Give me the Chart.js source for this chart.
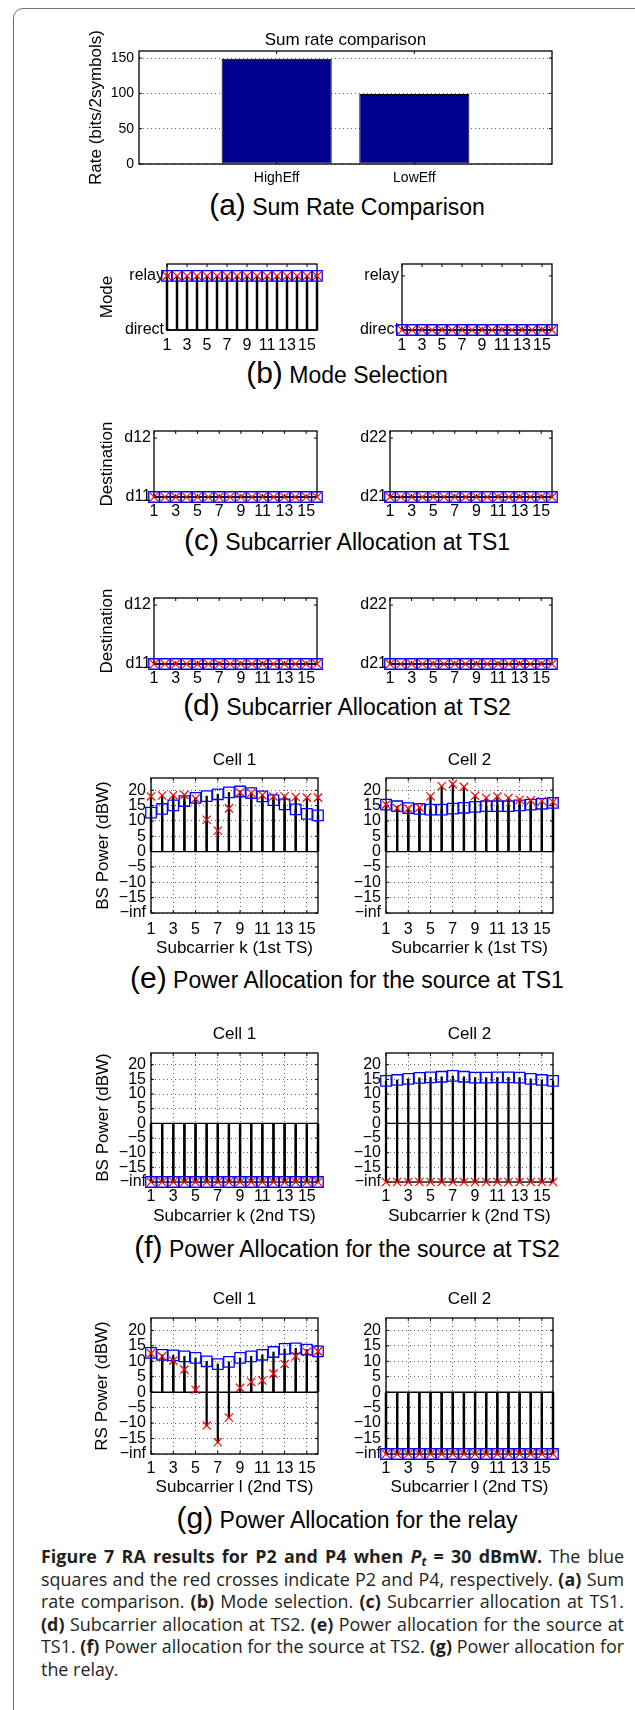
<!DOCTYPE html>
<html>
<head>
<meta charset="utf-8">
<title>Figure 7 - RA results for P2 and P4</title>
<script src="https://cdn.jsdelivr.net/npm/chart.js@4.4.1/dist/chart.umd.min.js"></script>
<style>
  body { margin:0; width:635px; height:1710px; position:relative; overflow:hidden; background:#fff;
         font-family:'Liberation Sans', Arial, Helvetica, sans-serif; color:#000; }
  #frame { position:absolute; left:13px; top:8px; width:720px; height:1800px; border:1px solid #707070; border-radius:10px; }
  canvas { position:absolute; }
  .sub { position:absolute; left:0; width:694px; height:32px; line-height:32px; text-align:center; white-space:nowrap; font-size:23px; }
  .sub span { font-size:30px; }
  #caption { position:absolute; left:41px; top:1545px; font-family:'Open Sans','Noto Sans',sans-serif; font-size:18px;
             line-height:22.6px; color:#231f20; transform-origin:0 0; }
  #caption .j { text-align:justify; text-align-last:justify; }
  #caption sub { font-size:12px; line-height:0; vertical-align:-3px; }
</style>
</head>
<body>
<div id="frame"></div>

<div class="sub" style="top:189px"><span>(a)</span> Sum Rate Comparison</div>
<div class="sub" style="top:357px"><span>(b)</span> Mode Selection</div>
<div class="sub" style="top:524px"><span>(c)</span> Subcarrier Allocation at TS1</div>
<div class="sub" style="top:689px"><span>(d)</span> Subcarrier Allocation at TS2</div>
<div class="sub" style="top:962px"><span>(e)</span> Power Allocation for the source at TS1</div>
<div class="sub" style="top:1231px"><span>(f)</span> Power Allocation for the source at TS2</div>
<div class="sub" style="top:1502px"><span>(g)</span> Power Allocation for the relay</div>

<div id="caption">
  <div class="j"><b>Figure 7 RA results for P2 and P4 when <i>P<sub>t</sub></i> = 30 dBmW.</b> The blue</div>
  <div class="j">squares and the red crosses indicate P2 and P4, respectively. <b>(a)</b> Sum</div>
  <div class="j">rate comparison. <b>(b)</b> Mode selection. <b>(c)</b> Subcarrier allocation at TS1.</div>
  <div class="j"><b>(d)</b> Subcarrier allocation at TS2. <b>(e)</b> Power allocation for the source at</div>
  <div class="j">TS1. <b>(f)</b> Power allocation for the source at TS2. <b>(g)</b> Power allocation for</div>
  <div>the relay.</div>
</div>

<script>
/* ===== Data ===== */

const NI = -Infinity; // "-inf" dBW, drawn on the bottom of the power axes

const SUBCARRIERS = [1, 2, 3, 4, 5, 6, 7, 8, 9, 10, 11, 12, 13, 14, 15, 16];
const SUB_TICKS   = [1, 3, 5, 7, 9, 11, 13, 15];

// (a) sum rate
const RATE_SCHEMES   = ['HighEff', 'LowEff'];
const RATE_POSITIONS = [1, 2];
const RATE_VALUES    = [149, 99];
const RATE_TICKS     = [0, 50, 100, 150];
const RATE_RANGE     = [0, 160];
const RATE_X_RANGE   = [0, 3];

// (b) mode selection: 0 = direct, 1 = relay
const MODE_TICKS  = [0, 1];
const MODE_LABELS = ['direct', 'relay'];
const MODE_RANGE  = [0, 1.22];
const MODE_CELL1_P2 = [1, 1, 1, 1, 1, 1, 1, 1, 1, 1, 1, 1, 1, 1, 1, 1];
const MODE_CELL1_P4 = [1, 1, 1, 1, 1, 1, 1, 1, 1, 1, 1, 1, 1, 1, 1, 1];
const MODE_CELL2_P2 = [0, 0, 0, 0, 0, 0, 0, 0, 0, 0, 0, 0, 0, 0, 0, 0];
const MODE_CELL2_P4 = [0, 0, 0, 0, 0, 0, 0, 0, 0, 0, 0, 0, 0, 0, 0, 0];

// (c)(d) subcarrier allocation: 0 = first destination, 1 = second
const DEST_TICKS        = [0, 1];
const DEST_CELL1_LABELS = ['d11', 'd12'];
const DEST_CELL2_LABELS = ['d21', 'd22'];
const DEST_RANGE        = [0, 1.12];
const DEST_TS1_CELL1_P2 = [0, 0, 0, 0, 0, 0, 0, 0, 0, 0, 0, 0, 0, 0, 0, 0];
const DEST_TS1_CELL1_P4 = [0, 0, 0, 0, 0, 0, 0, 0, 0, 0, 0, 0, 0, 0, 0, 0];
const DEST_TS1_CELL2_P2 = [0, 0, 0, 0, 0, 0, 0, 0, 0, 0, 0, 0, 0, 0, 0, 0];
const DEST_TS1_CELL2_P4 = [0, 0, 0, 0, 0, 0, 0, 0, 0, 0, 0, 0, 0, 0, 0, 0];
const DEST_TS2_CELL1_P2 = [0, 0, 0, 0, 0, 0, 0, 0, 0, 0, 0, 0, 0, 0, 0, 0];
const DEST_TS2_CELL1_P4 = [0, 0, 0, 0, 0, 0, 0, 0, 0, 0, 0, 0, 0, 0, 0, 0];
const DEST_TS2_CELL2_P2 = [0, 0, 0, 0, 0, 0, 0, 0, 0, 0, 0, 0, 0, 0, 0, 0];
const DEST_TS2_CELL2_P4 = [0, 0, 0, 0, 0, 0, 0, 0, 0, 0, 0, 0, 0, 0, 0, 0];

// (e)(f)(g) power in dBW
const POWER_TICKS       = [-20, -15, -10, -5, 0, 5, 10, 15, 20];
const POWER_TICK_LABELS = ['\u2212inf', '\u221215', '\u221210', '\u22125', '0', '5', '10', '15', '20'];
const POWER_RANGE       = [-20, 24];

const SRC_TS1_CELL1_P2 = [12.7, 13.9, 15.1, 16.5, 17.5, 18.1, 18.7, 19.3, 19.6, 19.1, 18.0, 16.8, 15.4, 13.8, 12.3, 11.8];
const SRC_TS1_CELL1_P4 = [18.0, 18.3, 18.4, 18.5, 17.3, 10.4, 6.8, 14.1, 19.3, 19.1, 18.4, 18.0, 18.0, 17.8, 17.6, 17.6];
const SRC_TS1_CELL2_P2 = [15.3, 14.8, 14.2, 13.9, 13.7, 13.7, 14.0, 14.3, 14.6, 14.8, 14.8, 14.8, 15.1, 15.3, 15.6, 15.9];
const SRC_TS1_CELL2_P4 = [15.3, 14.2, 14.0, 14.4, 18.0, 21.3, 22.0, 21.1, 18.2, 17.5, 18.0, 17.5, 16.9, 16.7, 16.5, 16.2];

const SRC_TS2_CELL1_P2 = [NI, NI, NI, NI, NI, NI, NI, NI, NI, NI, NI, NI, NI, NI, NI, NI];
const SRC_TS2_CELL1_P4 = [NI, NI, NI, NI, NI, NI, NI, NI, NI, NI, NI, NI, NI, NI, NI, NI];
const SRC_TS2_CELL2_P2 = [14.5, 14.8, 15.2, 15.5, 15.7, 15.9, 16.2, 15.9, 15.6, 15.6, 15.7, 15.7, 15.6, 15.2, 14.8, 14.5];
const SRC_TS2_CELL2_P4 = [NI, NI, NI, NI, NI, NI, NI, NI, NI, NI, NI, NI, NI, NI, NI, NI];

const RELAY_CELL1_P2 = [12.7, 12.1, 11.9, 11.6, 11.1, 10.0, 9.1, 9.8, 11.1, 11.6, 12.1, 13.0, 14.0, 14.2, 13.8, 13.2];
const RELAY_CELL1_P4 = [12.5, 11.6, 10.2, 7.3, 0.8, -10.8, -16.2, -8.2, 1.4, 3.3, 3.8, 6.0, 9.1, 11.6, 13.0, 13.2];
const RELAY_CELL2_P2 = [NI, NI, NI, NI, NI, NI, NI, NI, NI, NI, NI, NI, NI, NI, NI, NI];
const RELAY_CELL2_P4 = [NI, NI, NI, NI, NI, NI, NI, NI, NI, NI, NI, NI, NI, NI, NI, NI];

/* ===== Style ===== */

const FONT       = "'Liberation Sans', Arial, Helvetica, sans-serif";
const LABEL_SIZE = 17;
const GRID_COLOR = 'rgba(0,0,0,0.6)';
const P2_COLOR   = '#0000ff';
const P4_COLOR   = '#ff0000';
const BAR_COLOR  = '#00008f';

Chart.defaults.font.family = FONT;
Chart.defaults.color = '#000';
Chart.defaults.animation = false;
Chart.defaults.events = [];
Chart.defaults.plugins.legend.display = false;
Chart.defaults.plugins.tooltip.enabled = false;

// MATLAB-like axes box with inward tick marks
const matlabBox = {
  id: 'matlabBox',
  beforeDatasetsDraw(chart) {
    const { ctx, chartArea: a, scales: { x, y } } = chart;
    const seg = (x0, y0, x1, y1) => { ctx.beginPath(); ctx.moveTo(x0, y0); ctx.lineTo(x1, y1); ctx.stroke(); };
    ctx.save();
    ctx.strokeStyle = '#000';
    ctx.lineWidth = 1;
    x.ticks.forEach(t => {
      const px = x.getPixelForValue(t.value);
      seg(px, a.bottom, px, a.bottom - 3);
      seg(px, a.top, px, a.top + 3);
    });
    y.ticks.forEach(t => {
      const py = y.getPixelForValue(t.value);
      seg(a.left, py, a.left + 3, py);
      seg(a.right, py, a.right - 3, py);
    });
    ctx.lineWidth = 1.3;
    ctx.strokeRect(a.left, a.top, a.right - a.left, a.bottom - a.top);
    ctx.restore();
  }
};

/* ===== Helpers ===== */

function onAxis(v, min) {
  return v === -Infinity ? min : v;
}

function stemSets(p2, p4, yMin) {
  const stem = vals => ({
    type: 'bar',
    data: SUBCARRIERS.map((k, i) => ({ x: k, y: [0, onAxis(vals[i], yMin)] })),
    backgroundColor: '#000', barThickness: 1.6, grouped: false, clip: false, order: 3
  });
  return [
    stem(p2),
    stem(p4),
    {
      type: 'line',
      data: [{ x: SUBCARRIERS[0], y: 0 }, { x: SUBCARRIERS[SUBCARRIERS.length - 1], y: 0 }],
      borderColor: '#000', borderWidth: 1.4, pointRadius: 0, clip: false, order: 2
    },
    {
      type: 'scatter',
      data: SUBCARRIERS.map((k, i) => ({ x: k, y: onAxis(p2[i], yMin) })),
      pointStyle: 'rect', pointRadius: 7.4, pointBorderWidth: 1.3,
      pointBorderColor: P2_COLOR, pointBackgroundColor: 'rgba(0,0,0,0)', clip: false, order: 1
    },
    {
      type: 'scatter',
      data: SUBCARRIERS.map((k, i) => ({ x: k, y: onAxis(p4[i], yMin) })),
      pointStyle: 'crossRot', pointRadius: 5.8, pointBorderWidth: 1.2,
      pointBorderColor: P4_COLOR, clip: false, order: 0
    }
  ];
}

// p: plot rectangle (L,T,R,B) in page pixels plus text positions
function makePanel(id, p, datasets) {
  const cl = p.canvasL;
  const cr = p.R + 14;
  const ct = Math.floor(p.title ? p.titleY - LABEL_SIZE / 2 - 3 : p.T - 12);
  const xAxisH = p.xTitle ? p.xTitleY - p.B + LABEL_SIZE / 2 : p.xTickY - p.B + p.tickSize / 2 + 2;
  const cb = Math.ceil(p.B + xAxisH + 4);
  const w = cr - cl, h = cb - ct;

  const canvas = document.createElement('canvas');
  canvas.id = id;
  canvas.width = w;
  canvas.height = h;
  canvas.style.cssText = `left:${cl}px;top:${ct}px;width:${w}px;height:${h}px;`;
  document.body.appendChild(canvas);

  const tickFont = { size: p.tickSize, lineHeight: 1 };
  const labelFont = { size: LABEL_SIZE, lineHeight: 1, weight: 'normal' };
  const padTop = p.title ? p.titleY - LABEL_SIZE / 2 - ct : p.T - ct;

  return new Chart(canvas, {
    type: p.type || 'scatter',
    data: { datasets },
    options: {
      responsive: false,
      layout: { padding: { left: 0, right: cr - p.R, top: padTop, bottom: cb - (p.B + xAxisH) } },
      plugins: {
        title: p.title
          ? { display: true, text: p.title, fullSize: false, font: labelFont,
              padding: { top: 0, bottom: p.T - (p.titleY + LABEL_SIZE / 2) } }
          : { display: false }
      },
      scales: {
        x: {
          type: 'linear', min: p.xRange[0], max: p.xRange[1], bounds: 'data', offset: false,
          grid: { display: !!p.gridX, offset: false, color: GRID_COLOR, drawTicks: false },
          border: { display: false, dash: [1, 3] },
          ticks: {
            font: tickFont, padding: p.xTickY - p.B - p.tickSize / 2, autoSkip: false, maxRotation: 0,
            callback: (v, i) => (p.xLabels ? p.xLabels[i] : v)
          },
          afterBuildTicks: s => { s.ticks = p.xTicks.map(v => ({ value: v })); },
          afterFit: s => { s.height = xAxisH; },
          title: p.xTitle ? { display: true, text: p.xTitle, font: labelFont, padding: 0 } : { display: false }
        },
        y: {
          type: 'linear', min: p.yRange[0], max: p.yRange[1], bounds: 'data',
          grid: { display: !!p.gridY, color: GRID_COLOR, drawTicks: false },
          border: { display: false, dash: [1, 3] },
          ticks: { font: tickFont, padding: p.yTickPad || 5, autoSkip: false, callback: (v, i) => p.yLabels[i] },
          afterBuildTicks: s => { s.ticks = p.yTicks.map(v => ({ value: v })); },
          afterFit: s => { s.width = p.L - cl; },
          title: p.yTitle
            ? { display: true, text: p.yTitle, font: labelFont,
                padding: { top: p.yTitleX - cl - LABEL_SIZE / 2, bottom: 0 } }
            : { display: false }
        }
      }
    },
    plugins: [matlabBox]
  });
}

/* ===== (a) Sum rate comparison ===== */

makePanel('chart-rate', {
  type: 'bar', L: 139, T: 51, R: 552, B: 164, canvasL: 60,
  title: 'Sum rate comparison', titleY: 40,
  yTitle: 'Rate (bits/2symbols)', yTitleX: 96,
  xTickY: 178, tickSize: 14, gridY: true,
  xRange: RATE_X_RANGE, xTicks: RATE_POSITIONS, xLabels: RATE_SCHEMES,
  yRange: RATE_RANGE, yTicks: RATE_TICKS, yLabels: RATE_TICKS.map(String)
}, [{
  data: RATE_POSITIONS.map((x, i) => ({ x, y: RATE_VALUES[i] })),
  backgroundColor: BAR_COLOR, borderColor: '#000', borderWidth: 1, borderSkipped: false,
  barPercentage: 1, categoryPercentage: 0.8
}]);

/* ===== (b)(c)(d) Mode and subcarrier allocation ===== */

const subX = { xRange: [SUBCARRIERS[0], SUBCARRIERS[SUBCARRIERS.length - 1]], xTicks: SUB_TICKS, tickSize: 16, yTickPad: 3 };

makePanel('chart-mode-1', { ...subX, L: 167, T: 264, R: 317, B: 330, canvasL: 60, yTitle: 'Mode', yTitleX: 107, xTickY: 346,
  yRange: MODE_RANGE, yTicks: MODE_TICKS, yLabels: MODE_LABELS }, stemSets(MODE_CELL1_P2, MODE_CELL1_P4, 0));
makePanel('chart-mode-2', { ...subX, L: 402, T: 264, R: 552, B: 330, canvasL: 330, xTickY: 346,
  yRange: MODE_RANGE, yTicks: MODE_TICKS, yLabels: MODE_LABELS }, stemSets(MODE_CELL2_P2, MODE_CELL2_P4, 0));

makePanel('chart-ts1-1', { ...subX, L: 154, T: 431, R: 317, B: 497, canvasL: 60, yTitle: 'Destination', yTitleX: 107, xTickY: 512,
  yRange: DEST_RANGE, yTicks: DEST_TICKS, yLabels: DEST_CELL1_LABELS }, stemSets(DEST_TS1_CELL1_P2, DEST_TS1_CELL1_P4, 0));
makePanel('chart-ts1-2', { ...subX, L: 390, T: 431, R: 552, B: 497, canvasL: 330, xTickY: 512,
  yRange: DEST_RANGE, yTicks: DEST_TICKS, yLabels: DEST_CELL2_LABELS }, stemSets(DEST_TS1_CELL2_P2, DEST_TS1_CELL2_P4, 0));

makePanel('chart-ts2-1', { ...subX, L: 154, T: 598, R: 317, B: 664, canvasL: 60, yTitle: 'Destination', yTitleX: 107, xTickY: 679,
  yRange: DEST_RANGE, yTicks: DEST_TICKS, yLabels: DEST_CELL1_LABELS }, stemSets(DEST_TS2_CELL1_P2, DEST_TS2_CELL1_P4, 0));
makePanel('chart-ts2-2', { ...subX, L: 390, T: 598, R: 552, B: 664, canvasL: 330, xTickY: 679,
  yRange: DEST_RANGE, yTicks: DEST_TICKS, yLabels: DEST_CELL2_LABELS }, stemSets(DEST_TS2_CELL2_P2, DEST_TS2_CELL2_P4, 0));

/* ===== (e)(f)(g) Power allocation ===== */

const powerAxes = {
  xRange: [SUBCARRIERS[0], SUBCARRIERS[SUBCARRIERS.length - 1]], xTicks: SUB_TICKS, tickSize: 16,
  yRange: POWER_RANGE, yTicks: POWER_TICKS, yLabels: POWER_TICK_LABELS, gridX: true, gridY: true
};
const leftCol  = { L: 151, R: 318, canvasL: 60 };
const rightCol = { L: 386, R: 553, canvasL: 330 };
const pMin = POWER_RANGE[0];

const rowE = { T: 778, B: 913, titleY: 760, xTickY: 930, xTitleY: 948, xTitle: 'Subcarrier k (1st TS)' };
makePanel('chart-src1-1', { ...powerAxes, ...leftCol, ...rowE, title: 'Cell 1', yTitle: 'BS Power (dBW)', yTitleX: 103 },
  stemSets(SRC_TS1_CELL1_P2, SRC_TS1_CELL1_P4, pMin));
makePanel('chart-src1-2', { ...powerAxes, ...rightCol, ...rowE, title: 'Cell 2' },
  stemSets(SRC_TS1_CELL2_P2, SRC_TS1_CELL2_P4, pMin));

const rowF = { T: 1053, B: 1182, titleY: 1034, xTickY: 1197, xTitleY: 1216, xTitle: 'Subcarrier k (2nd TS)' };
makePanel('chart-src2-1', { ...powerAxes, ...leftCol, ...rowF, title: 'Cell 1', yTitle: 'BS Power (dBW)', yTitleX: 103 },
  stemSets(SRC_TS2_CELL1_P2, SRC_TS2_CELL1_P4, pMin));
makePanel('chart-src2-2', { ...powerAxes, ...rightCol, ...rowF, title: 'Cell 2' },
  stemSets(SRC_TS2_CELL2_P2, SRC_TS2_CELL2_P4, pMin));

const rowG = { T: 1318, B: 1454, titleY: 1299, xTickY: 1469, xTitleY: 1487, xTitle: 'Subcarrier l (2nd TS)' };
makePanel('chart-relay-1', { ...powerAxes, ...leftCol, ...rowG, title: 'Cell 1', yTitle: 'RS Power (dBW)', yTitleX: 102 },
  stemSets(RELAY_CELL1_P2, RELAY_CELL1_P4, pMin));
makePanel('chart-relay-2', { ...powerAxes, ...rightCol, ...rowG, title: 'Cell 2' },
  stemSets(RELAY_CELL2_P2, RELAY_CELL2_P4, pMin));

/* ===== Figure caption: condense to the column width, justify full lines ===== */

function fitCaption() {
  const box = document.getElementById('caption');
  const lines = Array.from(box.children);
  const target = 582;
  const widths = lines.map(l => {
    l.style.display = 'inline-block';
    l.style.whiteSpace = 'nowrap';
    const wd = l.getBoundingClientRect().width;
    l.style.display = '';
    l.style.whiteSpace = '';
    return wd;
  });
  const k = Math.min(...widths.slice(0, 5).map(wd => target / wd));
  box.style.width = (target / k + 1) + 'px';
  box.style.transform = `scaleX(${k})`;
}
document.fonts.ready.then(fitCaption);
</script>
</body>
</html>
